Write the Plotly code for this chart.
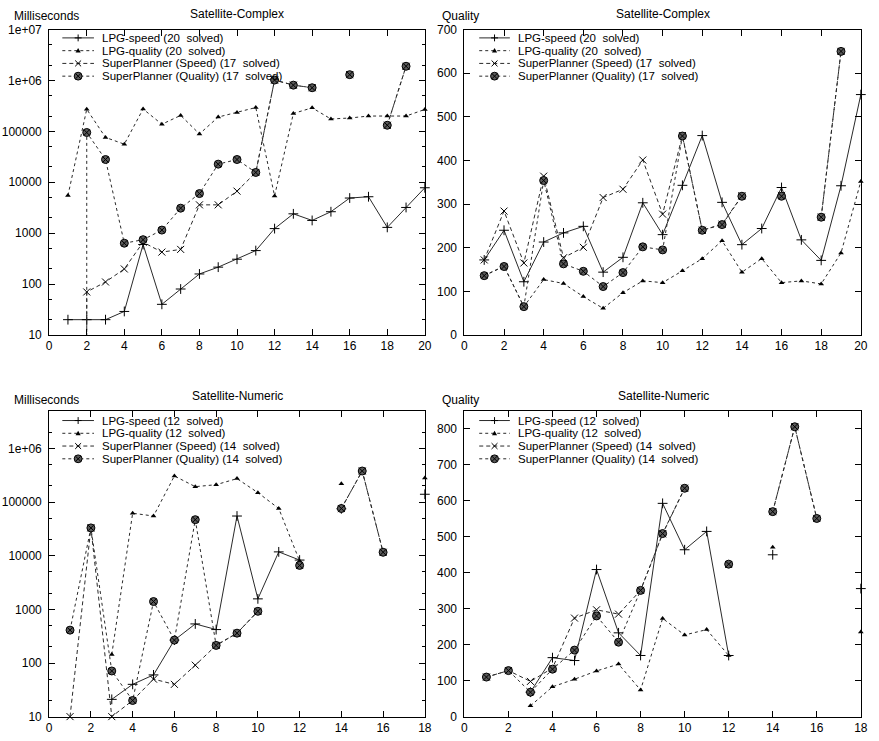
import plotly.graph_objects as go

W, H = 879, 741
FONT = "Liberation Sans, Arial, sans-serif"

# ---------------- data ----------------
# Satellite-Complex (problems 1..20)
x_complex = list(range(1, 21))
x_sp_complex = [2, 2, 3, 4, 5, 6, 7, 8, 9, 10, 11, 12, 13, 14, 15, 16, 17, 18, 19]

cx_time_lpg_speed = [20, 20, 20, 29, 600, 40, 80, 158, 215, 308, 455, 1230, 2400, 1780, 2640,
                     4900, 5200, 1300, 3200, 7800]
cx_time_lpg_quality = [5500, 272000, 76000, 56000, 275000, 138000, 206000, 89000, 191000, 236000,
                       294000, 5400, 225000, 290000, 175000, 183000, 200000, 200000, 200000, 270000]
cx_time_sp_speed = [1, 70, 110, 198, 665, 425, 480, 3600, 3600, 6700, 15600, 1020000, 810000,
                    720000, None, 1300000, None, 132000, 1900000]
cx_time_sp_quality = [1, 95000, 28000, 635, 745, 1150, 3100, 6000, 22700, 28000, 15600, 1020000,
                      810000, 720000, None, 1300000, None, 132000, 1900000]

cx_qual_lpg_speed = [172, 240, 122, 213, 234, 249, 144, 178, 303, 230, 343, 457, 304, 207, 244,
                     338, 218, 171, 342, 551]
cx_qual_lpg_quality = [136, 158, 65, 127, 118, 88, 61, 97, 124, 120, 147, 175, 216, 144, 175,
                       120, 124, 117, 188, 352]
cx_qual_sp_speed = [172, 284, 165, 364, 177, 201, 315, 334, 401, 277, 457, 240, 254, 319, None,
                    320, None, 270, 650, None]
cx_qual_sp_quality = [136, 157, 65, 354, 163, 146, 111, 143, 202, 195, 456, 240, 253, 318, None,
                      318, None, 270, 650, None]

# Satellite-Numeric (problems 1..18)
x_numeric = list(range(1, 19))
nu_time_lpg_speed = [None, None, 21, 40, 60, 267, 535, 420, 55000, 1570, 11800, 8300, None,
                     75000, None, None, None, 140000]
nu_time_lpg_quality = [None, None, 144, 62000, 55000, 307000, 194000, 211000, 274000, 150000,
                       76000, 8000, None, 220000, None, None, None, 282000]
nu_time_sp_speed = [10, 33000, 10, 20, 50, 40, 91, 213, 360, 920, None, 6600, None, 76000,
                    380000, 11600, None, None]
nu_time_sp_quality = [410, 33000, 71, 20, 1400, 267, 47000, 213, 360, 920, None, 6600, None,
                      76000, 380000, 11600, None, None]

nu_qual_lpg_speed = [None, None, 68, 164, 156, 409, 233, 170, 593, 464, 515, 170, None, 450,
                     None, None, None, 356]
nu_qual_lpg_quality = [None, None, 30, 83, 104, 127, 146, 74, 273, 227, 242, 170, None, 471,
                       None, None, None, 235]
nu_qual_sp_speed = [110, 128, 98, 135, 274, 297, 285, 351, 508, 635, None, 423, None, 570, 806,
                    551, None, None]
nu_qual_sp_quality = [110, 128, 68, 132, 185, 280, 207, 351, 509, 635, None, 424, None, 570, 806,
                      551, None, None]

NB = "\u00a0"
legend_complex = ["LPG-speed (20" + NB + " solved)", "LPG-quality (20" + NB + " solved)",
                  "SuperPlanner (Speed) (17" + NB + " solved)",
                  "SuperPlanner (Quality) (17" + NB + " solved)"]
legend_numeric = ["LPG-speed (12" + NB + " solved)", "LPG-quality (12" + NB + " solved)",
                  "SuperPlanner (Speed) (14" + NB + " solved)",
                  "SuperPlanner (Quality) (14" + NB + " solved)"]

log_tickvals = [10, 100, 1000, 10000, 100000, 1000000, 10000000]
log_ticktext = ["10", "100", "1000", "10000", "100000", "1e+06", "1e+07"]
log_minor = [m * 10 ** k for k in range(1, 7) for m in (2, 5)]

# ---------------- helpers ----------------
def fx(px):
    return px / W

def fy(py):
    return 1 - py / H

LINE_C = "#2a2a2a"
styles = [
    dict(line=dict(color=LINE_C, width=1, dash="solid"),
         marker=dict(symbol="cross-thin", size=7, color="black", line=dict(width=1, color="black"))),
    dict(line=dict(color=LINE_C, width=1, dash="dot"),
         marker=dict(symbol="triangle-up", size=5, color="black", line=dict(width=0))),
    dict(line=dict(color=LINE_C, width=1, dash="4px,3px"),
         marker=dict(symbol="x-thin", size=7, color="black", line=dict(width=1, color="black"))),
    dict(line=dict(color=LINE_C, width=1, dash="dot"),
         marker=dict(symbol="circle-x", size=8, color="#5a5a5a", line=dict(width=1, color="black"))),
]

fig = go.Figure()

panels = [
    ("x", "y", [x_complex, x_complex, x_sp_complex, x_sp_complex],
     [cx_time_lpg_speed, cx_time_lpg_quality, cx_time_sp_speed, cx_time_sp_quality],
     [False, False, True, True]),
    ("x2", "y2", [x_complex] * 4,
     [cx_qual_lpg_speed, cx_qual_lpg_quality, cx_qual_sp_speed, cx_qual_sp_quality],
     [False] * 4),
    ("x3", "y3", [x_numeric] * 4,
     [nu_time_lpg_speed, nu_time_lpg_quality, nu_time_sp_speed, nu_time_sp_quality],
     [False] * 4),
    ("x4", "y4", [x_numeric] * 4,
     [nu_qual_lpg_speed, nu_qual_lpg_quality, nu_qual_sp_speed, nu_qual_sp_quality],
     [False] * 4),
]

for xa, ya, xs_list, series, clips in panels:
    for i, (xs, ys) in enumerate(zip(xs_list, series)):
        fig.add_trace(go.Scatter(x=xs, y=ys, mode="lines+markers", xaxis=xa, yaxis=ya,
                                 connectgaps=False, cliponaxis=clips[i],
                                 line=styles[i]["line"], marker=styles[i]["marker"],
                                 showlegend=False, hoverinfo="skip"))

# plot areas in pixels
L_LEFT, L_RIGHT = 46.7, 426.7
R_LEFT, R_RIGHT = 466.7, 867.7
T_TOP, T_BOT = 23.0, 334.3
B_TOP, B_BOT = 411.7, 723.3

common_x = dict(ticks="inside", ticklen=6, tickwidth=1, tickcolor="black", showline=True,
                linecolor="black", linewidth=1, mirror="ticks", showgrid=False, zeroline=False,
                dtick=2, tick0=0, tickfont=dict(family=FONT, size=12, color="black"))
common_y = dict(ticks="inside", ticklen=6, tickwidth=1, tickcolor="black", showline=True,
                linecolor="black", linewidth=1, mirror="ticks", showgrid=False, zeroline=False,
                tickfont=dict(family=FONT, size=12, color="black"), ticklabelstandoff=4)
log_y = dict(type="log", tickmode="array", tickvals=log_tickvals, ticktext=log_ticktext,
             minor=dict(tickmode="array", tickvals=log_minor, ticks="inside", ticklen=3,
                        tickcolor="black", showgrid=False))

fig.update_layout(
    width=W, height=H, margin=dict(l=0, r=0, t=0, b=0),
    paper_bgcolor="white", plot_bgcolor="white", showlegend=False,
    xaxis=dict(domain=[fx(L_LEFT), fx(L_RIGHT)], range=[0, 20], anchor="y", **common_x),
    yaxis=dict(domain=[fy(T_BOT), fy(T_TOP)], range=[1, 7], anchor="x", **log_y, **common_y),
    xaxis2=dict(domain=[fx(R_LEFT), fx(R_RIGHT)], range=[0, 20], anchor="y2", **common_x),
    yaxis2=dict(domain=[fy(T_BOT), fy(T_TOP)], range=[0, 700], dtick=100, anchor="x2", **common_y),
    xaxis3=dict(domain=[fx(L_LEFT), fx(L_RIGHT)], range=[0, 18], anchor="y3", **common_x),
    yaxis3=dict(domain=[fy(B_BOT), fy(B_TOP)], range=[1, 6.70], anchor="x3", **log_y, **common_y),
    xaxis4=dict(domain=[fx(R_LEFT), fx(R_RIGHT)], range=[0, 18], anchor="y4", **common_x),
    yaxis4=dict(domain=[fy(B_BOT), fy(B_TOP)], range=[0, 850], dtick=100, anchor="x4", **common_y),
)

annotations = []
shapes = []

def text(px, py, s, anchor="left", size=12):
    annotations.append(dict(x=fx(px), y=fy(py), xref="paper", yref="paper", text=s,
                            showarrow=False, xanchor=anchor, yanchor="middle",
                            borderpad=0, font=dict(family=FONT, size=size, color="black")))

# titles and y-axis labels
text(236.7, 7.5, "Satellite-Complex", "center")
text(667.7, 7.5, "Satellite-Complex", "center")
text(236.7, 396, "Satellite-Numeric", "center")
text(667.7, 396, "Satellite-Numeric", "center")
text(10, 9.0, "Milliseconds")
text(443, 9.0, "Quality")
text(10, 400.5, "Milliseconds")
text(443, 400.5, "Quality")

# legends
dashes = ["solid", "dot", "4px,3px", "dot"]
STEP = 13.0
LEG_FONT = 11.5

def legend(x0, x1, xt, y0, labels):
    for i, lab in enumerate(labels):
        y = y0 + i * STEP
        shapes.append(dict(type="line", xref="paper", yref="paper", x0=fx(x0), x1=fx(x1),
                           y0=fy(y), y1=fy(y), line=dict(color=LINE_C, width=1, dash=dashes[i])))
        xm = (x0 + x1) / 2
        if i == 0:
            shapes.append(dict(type="line", xref="paper", yref="paper", x0=fx(xm - 3.5), x1=fx(xm + 3.5),
                               y0=fy(y), y1=fy(y), line=dict(color="black", width=1)))
            shapes.append(dict(type="line", xref="paper", yref="paper", x0=fx(xm), x1=fx(xm),
                               y0=fy(y - 3.5), y1=fy(y + 3.5), line=dict(color="black", width=1)))
        elif i == 1:
            shapes.append(dict(type="path", xref="paper", yref="paper",
                               path="M %f %f L %f %f L %f %f Z" % (fx(xm - 2.6), fy(y + 2), fx(xm + 2.6), fy(y + 2), fx(xm), fy(y - 2.6)),
                               fillcolor="black", line=dict(width=0)))
        elif i == 2:
            shapes.append(dict(type="line", xref="paper", yref="paper", x0=fx(xm - 3), x1=fx(xm + 3),
                               y0=fy(y - 3), y1=fy(y + 3), line=dict(color="black", width=1)))
            shapes.append(dict(type="line", xref="paper", yref="paper", x0=fx(xm - 3), x1=fx(xm + 3),
                               y0=fy(y + 3), y1=fy(y - 3), line=dict(color="black", width=1)))
        else:
            shapes.append(dict(type="circle", xref="paper", yref="paper", x0=fx(xm - 4), x1=fx(xm + 4),
                               y0=fy(y + 4), y1=fy(y - 4), fillcolor="#5a5a5a",
                               line=dict(color="black", width=1)))
            shapes.append(dict(type="line", xref="paper", yref="paper", x0=fx(xm - 2.6), x1=fx(xm + 2.6),
                               y0=fy(y - 2.6), y1=fy(y + 2.6), line=dict(color="black", width=1)))
            shapes.append(dict(type="line", xref="paper", yref="paper", x0=fx(xm - 2.6), x1=fx(xm + 2.6),
                               y0=fy(y + 2.6), y1=fy(y - 2.6), line=dict(color="black", width=1)))
        text(xt, y, lab, size=LEG_FONT)

legend(60, 92, 99, 31.5, legend_complex)
legend(481.7, 512.7, 520, 31.5, legend_complex)
legend(60, 92, 99, 421.5, legend_numeric)
legend(481.7, 512.7, 520, 421.5, legend_numeric)

fig.update_layout(annotations=annotations, shapes=shapes)

fig.write_html("out.html")
